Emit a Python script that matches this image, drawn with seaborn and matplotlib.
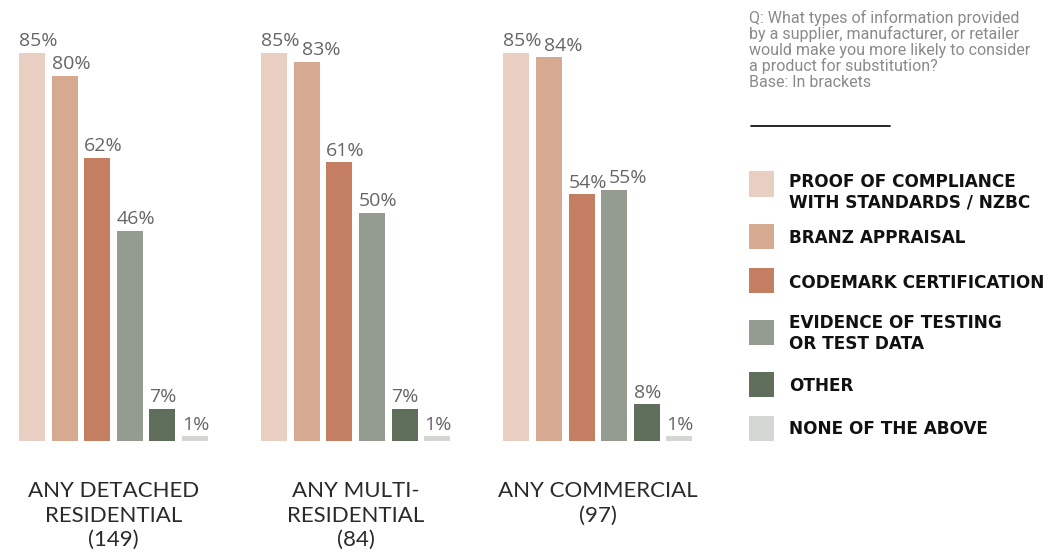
import matplotlib
matplotlib.use("Agg")
import matplotlib.pyplot as plt
import matplotlib.patches as mpatches
from matplotlib.lines import Line2D
import seaborn as sns
import pandas as pd

# ---- data ----
groups = ["ANY DETACHED\nRESIDENTIAL\n(149)", "ANY MULTI-\nRESIDENTIAL\n(84)", "ANY COMMERCIAL\n(97)"]
categories = ["PROOF OF COMPLIANCE\nWITH STANDARDS / NZBC", "BRANZ APPRAISAL",
              "CODEMARK CERTIFICATION", "EVIDENCE OF TESTING\nOR TEST DATA",
              "OTHER", "NONE OF THE ABOVE"]
detached = [85, 80, 62, 46, 7, 1]
multi = [85, 83, 61, 50, 7, 1]
commercial = [85, 84, 54, 55, 8, 1]
colors = ["#E8CFC1", "#D6A991", "#C47E62", "#939C8E", "#5F6F5C", "#D3D7D1"]
question = ("Q: What types of information provided\nby a supplier, manufacturer, or retailer\n"
            "would make you more likely to consider\na product for substitution?\nBase: In brackets")

rows = []
for g, vals in zip(groups, [detached, multi, commercial]):
    for c, v in zip(categories, vals):
        rows.append({"group": g, "category": c, "value": v})
df = pd.DataFrame(rows)

sns.set_theme(style="white")
W, H = 1050, 556
fig = plt.figure(figsize=(W / 100, H / 100), dpi=100)
ax = fig.add_axes([10 / W, 115 / H, 710 / W, 421 / H])

sns.barplot(data=df, x="group", y="value", hue="category", hue_order=categories,
            order=groups, palette=colors, saturation=1, width=0.807, gap=0.2,
            legend=False, linewidth=0, ax=ax)

ax.set_xlim(-0.427, 2.504)
ax.set_ylim(0, 92.2)
for s in ax.spines.values():
    s.set_visible(False)
ax.set_yticks([])
ax.set_xlabel("")
ax.set_ylabel("")
ax.tick_params(axis="x", length=0, pad=29)
for lbl in ax.get_xticklabels():
    lbl.set_family("Lato")
    lbl.set_fontweight("normal")
    lbl.set_fontsize(16)
    lbl.set_color("#2a2a2a")
    lbl.set_linespacing(1.27)

# value labels, left-aligned with each bar's left edge
labels_by_group = {}
for cont in ax.containers:
    for gi, bar in enumerate(cont):
        h = bar.get_height()
        t = ax.annotate(f"{h:.0f}%", xy=(bar.get_x(), h), xytext=(0, 2),
                        textcoords="offset points", ha="left", va="bottom",
                        color="#666666", fontsize=14, family="Open Sans")
        labels_by_group.setdefault(gi, []).append(t)

# nudge labels right where they would collide with the previous one
fig.canvas.draw()
renderer = fig.canvas.get_renderer()
for gi, texts in labels_by_group.items():
    prev = None
    for t in texts:
        bb = t.get_window_extent(renderer)
        if prev is not None and bb.x0 < prev.x1 + 2 and bb.y0 < prev.y1 - 1 and bb.y1 > prev.y0 + 1:
            dx_px = prev.x1 + 2 - bb.x0
            ox, oy = t.xyann
            t.xyann = (ox + dx_px * 72 / fig.dpi, oy)
            bb = t.get_window_extent(renderer)
        prev = bb

# question text
fig.text(749 / W, 1 - 10 / H, question, ha="left", va="top", family="Roboto",
         fontsize=11.5, color="#8a8a8a", linespacing=1.03)
fig.add_artist(Line2D([751 / W, 890 / W], [1 - 126 / H, 1 - 126 / H],
                      color="black", lw=1.2))

# legend
sq_centers = [184, 236.5, 280.5, 332.5, 384.5, 428.5]
text_centers = [192.5, 238, 283, 333.5, 386, 429]
for cat, col, yc, yt in zip(categories, colors, sq_centers, text_centers):
    fig.add_artist(mpatches.Rectangle((749 / W, 1 - (yc + 12.5) / H), 25 / W, 25 / H,
                                      facecolor=col, edgecolor="none",
                                      transform=fig.transFigure))
    fig.text(789 / W, 1 - yt / H, cat, ha="left", va="center", family="DejaVu Sans",
             fontsize=12.2, fontweight="bold", color="#111111", linespacing=1.2)

fig.savefig("out.png", dpi=100)
